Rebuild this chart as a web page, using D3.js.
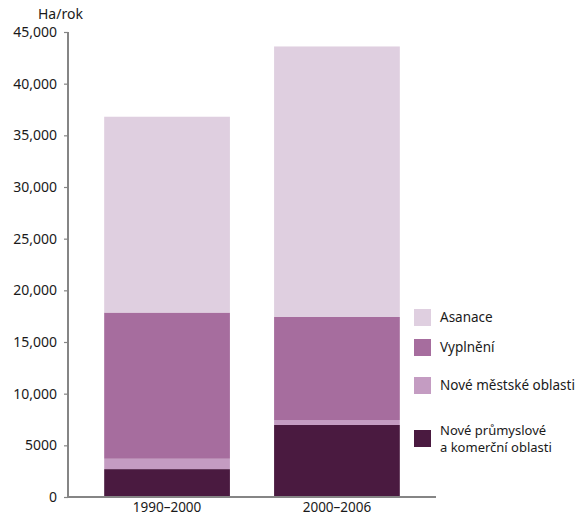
<!DOCTYPE html>
<html><head><meta charset="utf-8">
<script src="https://cdn.jsdelivr.net/npm/d3@7"></script>
<style>body{margin:0;background:#fff}svg{display:block}text{font-family:"Noto Sans",sans-serif;fill:#1a1a1a}</style>
</head><body>
<svg id="c" width="583" height="517"></svg>
<script>
const categories = ["1990–2000", "2000–2006"];
const seriesNames = ["Nové průmyslové a komerční oblasti", "Nové městské oblasti", "Vyplnění", "Asanace"];
const industrial = [2700, 6970];
const newUrban = [1000, 480];
const infill = [14150, 9970];
const redevelopment = [18950, 26180];
const yTicks = [0, 5000, 10000, 15000, 20000, 25000, 30000, 35000, 40000, 45000];
const yTickLabels = ["0", "5000", "10,000", "15,000", "20,000", "25,000", "30,000", "35,000", "40,000", "45,000"];
const colors = ["#4a1a40", "#c49cc2", "#a66d9e", "#dfcfe0"];

const svg = d3.select("#c");
const y = d3.scaleLinear().domain([0, 45000]).range([497, 32]);
const x = d3.scaleBand().domain(categories).range([68, 436]).paddingInner(0.26).paddingOuter(0.213);

const rows = categories.map((c, i) => ({cat: c, s0: industrial[i], s1: newUrban[i], s2: infill[i], s3: redevelopment[i]}));
const stack = d3.stack().keys(["s0", "s1", "s2", "s3"])(rows);

svg.append("g").selectAll("g").data(stack).join("g")
  .attr("fill", (d, i) => colors[i])
  .selectAll("rect").data(d => d).join("rect")
  .attr("x", d => x(d.data.cat))
  .attr("width", x.bandwidth())
  .attr("y", d => y(d[1]))
  .attr("height", d => y(d[0]) - y(d[1]));

// y axis
const yAxis = svg.append("g").attr("transform", "translate(68,0)")
  .call(d3.axisLeft(y).tickValues(yTicks).tickFormat((d, i) => yTickLabels[i]).tickSize(4).tickPadding(7));
yAxis.select(".domain").attr("stroke", "#858585").attr("stroke-width", 2).attr("d", "M0,32V498");
yAxis.selectAll(".tick line").attr("stroke", "#858585").attr("stroke-width", 1.2);
yAxis.selectAll(".tick text").attr("font-size", 14).attr("font-family", "Noto Sans").attr("fill", "#1a1a1a");

// x axis
const xAxis = svg.append("g").attr("transform", "translate(0,497)")
  .call(d3.axisBottom(x).tickSize(0).tickPadding(5));
xAxis.select(".domain").attr("stroke", "#858585").attr("stroke-width", 2).attr("d", "M67,0H436");
xAxis.selectAll(".tick text").attr("font-size", 13.5).attr("font-family", "Noto Sans").attr("fill", "#1a1a1a");

svg.append("text").attr("x", 38).attr("y", 19).attr("font-size", 14).text("Ha/rok");

// legend
const legendItems = [
  {name: ["Asanace"], color: colors[3], y: 309},
  {name: ["Vyplnění"], color: colors[2], y: 339},
  {name: ["Nové městské oblasti"], color: colors[1], y: 377},
  {name: ["Nové průmyslové", "a komerční oblasti"], color: colors[0], y: 430}
];
const lg = svg.append("g");
legendItems.forEach(it => {
  lg.append("rect").attr("x", 414).attr("y", it.y).attr("width", 17).attr("height", 17).attr("fill", it.color);
  if (it.name.length === 1) {
    lg.append("text").attr("x", 440).attr("y", it.y + 13).attr("font-size", 13.5).text(it.name[0]);
  } else {
    lg.append("text").attr("x", 440).attr("y", it.y + 5).attr("font-size", 13).text(it.name[0]);
    lg.append("text").attr("x", 440).attr("y", it.y + 22).attr("font-size", 13).text(it.name[1]);
  }
});
</script>
</body></html>
